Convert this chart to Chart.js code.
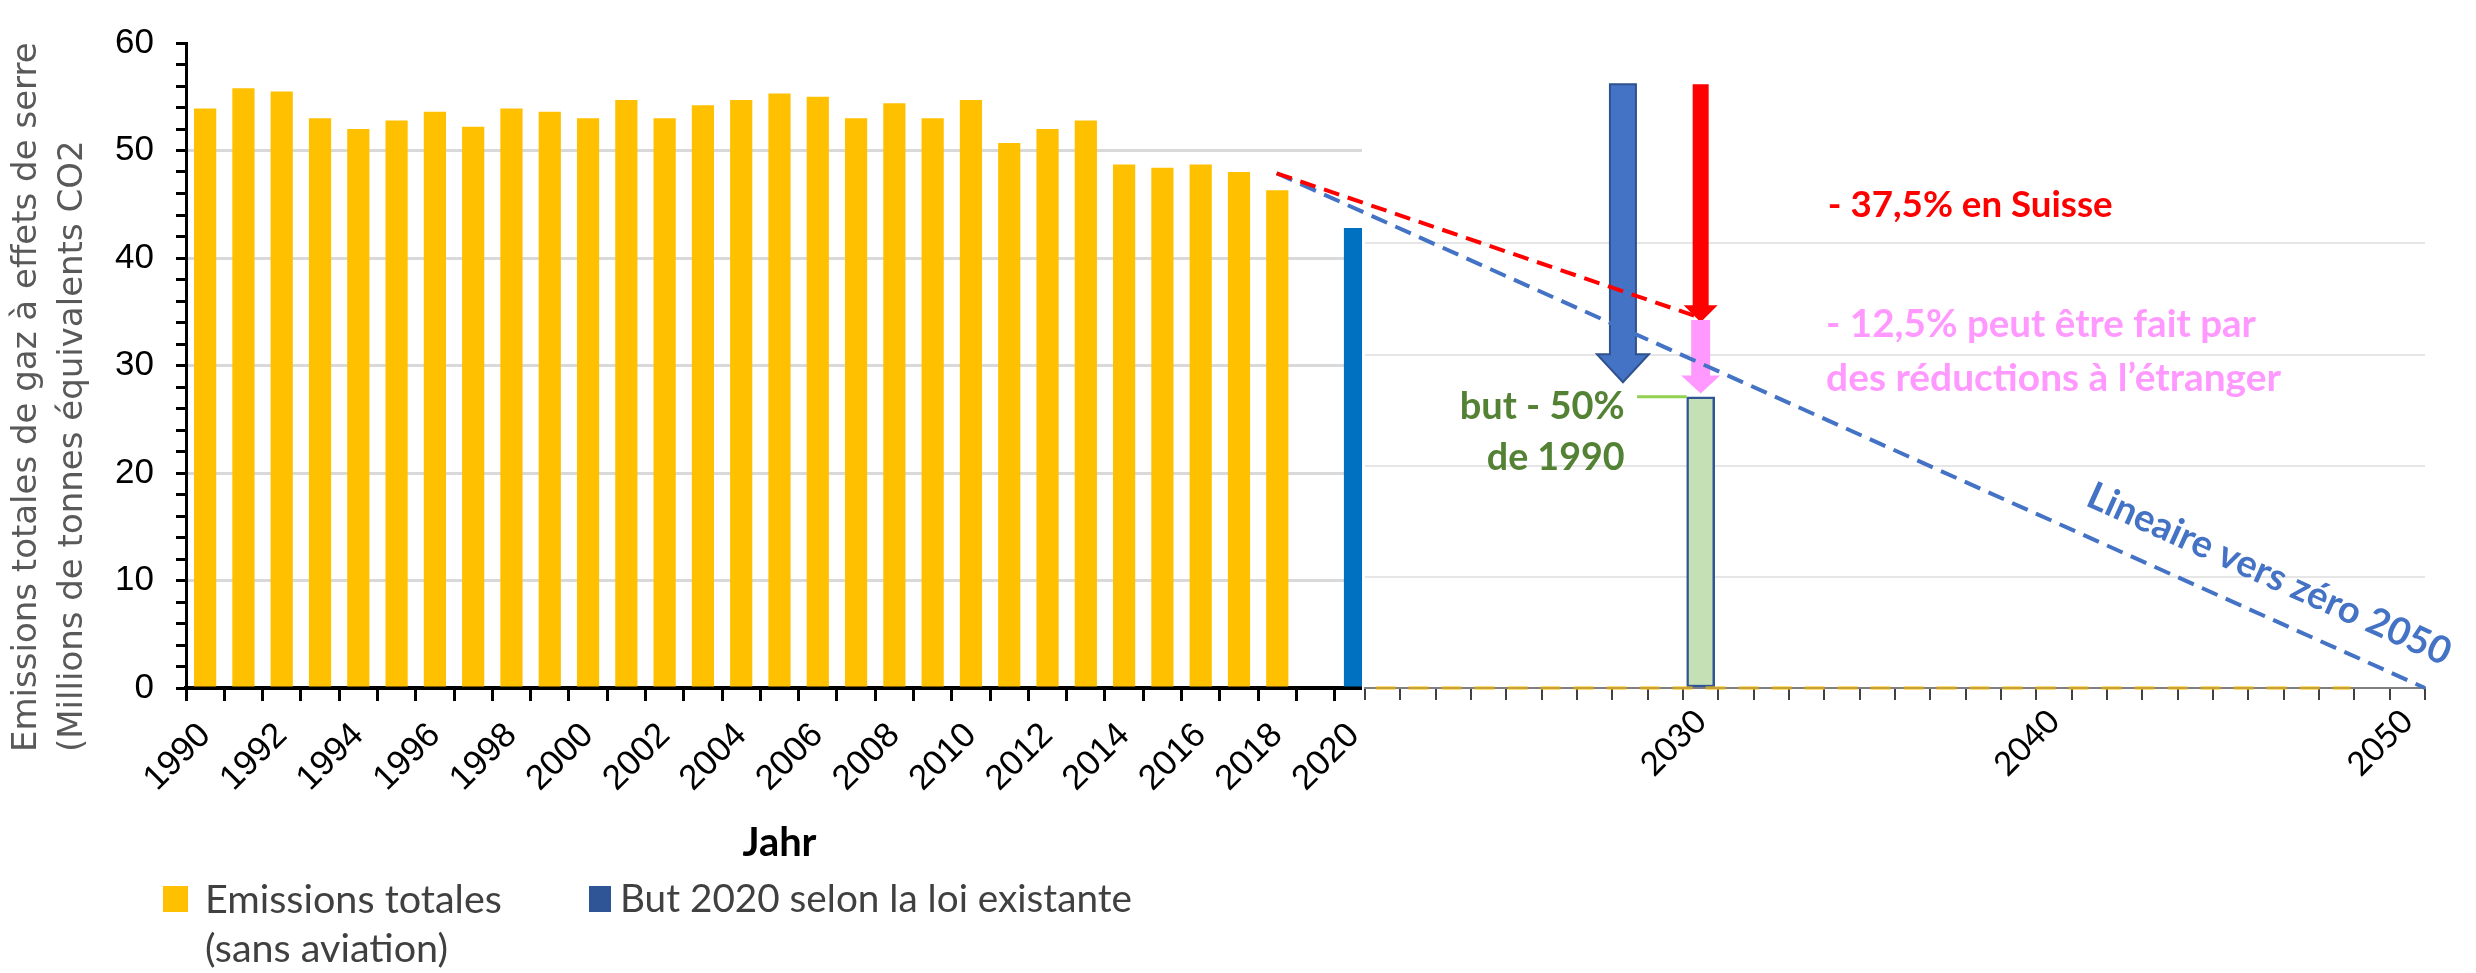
<!DOCTYPE html>
<html>
<head>
<meta charset="utf-8">
<script src="https://cdn.jsdelivr.net/npm/chart.js@4.4.0/dist/chart.umd.min.js"></script>
<style>
  html, body { margin: 0; padding: 0; background: #fff; }
  #wrap { position: relative; width: 2476px; height: 973px; overflow: hidden; }
  #wrap canvas { position: absolute; left: 0; top: 0; }
  .leg { position: absolute; font-family: Lato, sans-serif; color: #404040; line-height: 49px; white-space: nowrap; }
  .sw { position: absolute; width: 25px; height: 26px; }
</style>
</head>
<body>
<div id="wrap">
  <canvas id="chartA" width="2476" height="973"></canvas>
  <canvas id="chartB" width="2476" height="973"></canvas>
  <div class="sw" style="left:163px;top:886px;background:#FFC000"></div>
  <div class="leg" id="leg1" style="left:205px;top:873px">Emissions totales<br>(sans aviation)</div>
  <div class="sw" style="left:589px;top:886px;width:22px;background:#2F5597"></div>
  <div class="leg" id="leg2" style="left:620px;top:873px">But 2020 selon la loi existante</div>
</div>
<script>
// --- données ---
const yearLabels = ['1990','1991','1992','1993','1994','1995','1996','1997','1998','1999',
                    '2000','2001','2002','2003','2004','2005','2006','2007','2008','2009',
                    '2010','2011','2012','2013','2014','2015','2016','2017','2018','2019','2020'];
const emissionsTotal = [53.9, 55.8, 55.5, 53.0, 52.0, 52.8, 53.6, 52.2, 53.9, 53.6,
                        53.0, 54.7, 53.0, 54.2, 54.7, 55.3, 55.0, 53.0, 54.4, 53.0,
                        54.7, 50.7, 52.0, 52.8, 48.7, 48.4, 48.7, 48.0, 46.3, null, null];
const goal2020 = [null, null, null, null, null, null, null, null, null, null,
                  null, null, null, null, null, null, null, null, null, null,
                  null, null, null, null, null, null, null, null, null, null, 42.8];
const yTickValues = [0, 2, 4, 6, 8, 10, 12, 14, 16, 18, 20, 22, 24, 26, 28, 30,
                     32, 34, 36, 38, 40, 42, 44, 46, 48, 50, 52, 54, 56, 58, 60];

const futureYears = [2021, 2022, 2023, 2024, 2025, 2026, 2027, 2028, 2029, 2030,
                     2031, 2032, 2033, 2034, 2035, 2036, 2037, 2038, 2039, 2040,
                     2041, 2042, 2043, 2044, 2045, 2046, 2047, 2048, 2049, 2050];
const futureLabels = [2030, 2040, 2050];
const goal2030 = [{x: 2030, y: 26.2}];
const swissPath = [{x: 2018, y: 46.3}, {x: 2030, y: 33.3}];
const zeroPath = [{x: 2018, y: 46.3}, {x: 2050.5, y: 0}];
const zeroBaseline = [{x: 2020.8, y: 0}, {x: 2048.4, y: 0}];

// flèches : bleue (-50%), rouge (-37,5%), rose (-12,5%)
const arrowYears = [2027.8, 2030, 2030];
const arrowFrom = [54.3, 54.3, 33.1];
const arrowTo = [27.5, 32.9, 26.5];

// taille de police pour qu'un texte ait la largeur voulue
const mctx = document.createElement('canvas').getContext('2d');
function fitSize(text, weight, family, width) {
    mctx.font = weight + ' 100px ' + family;
    return 100 * width / mctx.measureText(text).width;
}

document.getElementById('leg1').style.fontSize = fitSize('Emissions totales', 'normal', 'Lato', 297) + 'px';
document.getElementById('leg2').style.fontSize = fitSize('But 2020 selon la loi existante', 'normal', 'Lato', 512) + 'px';

// Titre de l'axe Y (deux lignes, alignées en bas)
const yTitle = {
    id: 'yTitle',
    afterDraw(chart) {
        const ctx = chart.ctx;
        const fam = "'DejaVu Sans', sans-serif";
        const size = fitSize('Emissions totales de gaz à effets de serre', 'normal', fam, 710);
        ctx.save();
        ctx.fillStyle = '#595959';
        ctx.font = size + 'px ' + fam;
        ctx.textAlign = 'left';
        ctx.textBaseline = 'middle';
        [['Emissions totales de gaz à effets de serre', 27], ['(Millions de tonnes équivalents CO2', 73]].forEach(([t, x]) => {
            ctx.save();
            ctx.translate(x, 752);
            ctx.rotate(-Math.PI / 2);
            ctx.fillText(t, 0, 0);
            ctx.restore();
        });
        ctx.restore();
    }
};

new Chart(document.getElementById('chartA'), {
    type: 'bar',
    data: {
        labels: yearLabels,
        datasets: [{
            label: 'Emissions totales (sans aviation)',
            data: emissionsTotal,
            backgroundColor: '#FFC000',
            barPercentage: 0.58,
            categoryPercentage: 1,
            grouped: false
        }, {
            label: 'But 2020 selon la loi existante',
            data: goal2020,
            backgroundColor: '#0070C0',
            barPercentage: 0.52,
            categoryPercentage: 1,
            grouped: false
        }]
    },
    options: {
        responsive: false,
        animation: false,
        layout: { padding: { top: 21, left: 0, right: 1103, bottom: 0 } },
        plugins: { legend: { display: false }, tooltip: { enabled: false } },
        scales: {
            x: {
                afterFit: s => { s.height = 285; s.paddingLeft = 0; s.paddingRight = 0; },
                border: { color: '#000', width: 4 },
                grid: { drawOnChartArea: false, color: '#000', lineWidth: 3, tickLength: 13, offset: true },
                ticks: {
                    autoSkip: false, minRotation: 45, maxRotation: 45, padding: 14,
                    color: '#000', font: { family: "'Liberation Sans', Arial, sans-serif", size: 35 },
                    callback: function (v) {
                        const l = this.getLabelForValue(v);
                        return (+l) % 2 === 0 ? l : '';
                    }
                },
                title: {
                    display: true, text: 'Jahr', color: '#000',
                    font: { family: 'Lato', size: fitSize('Jahr', 'bold', 'Lato', 74), weight: 'bold' },
                    padding: { bottom: 106 }
                }
            },
            y: {
                min: 0, max: 60,
                afterFit: s => { s.width = 186; },
                afterBuildTicks: s => { s.ticks = yTickValues.map(v => ({ value: v })); },
                border: { color: '#000', width: 3 },
                grid: {
                    lineWidth: 3, tickLength: 10, tickColor: '#000', tickWidth: 3,
                    color: c => (c.tick && c.tick.value % 10 === 0 && c.tick.value > 0 && c.tick.value < 60) ? '#D9D9D9' : 'rgba(0,0,0,0)'
                },
                ticks: {
                    autoSkip: false, padding: 22, color: '#000',
                    font: { family: "'Liberation Sans', Arial, sans-serif", size: 35 },
                    callback: v => (v % 10 === 0 ? String(v) : '')
                }
            }
        }
    },
    plugins: [yTitle]
});

function blockArrow(ctx, cx, y0, y1, s) {
    const hs = s.shaft / 2, hh = s.head / 2, yh = y1 - s.headLen;
    ctx.beginPath();
    ctx.moveTo(cx - hs, y0);
    ctx.lineTo(cx + hs, y0);
    ctx.lineTo(cx + hs, yh);
    ctx.lineTo(cx + hh, yh);
    ctx.lineTo(cx, y1);
    ctx.lineTo(cx - hh, yh);
    ctx.lineTo(cx - hs, yh);
    ctx.closePath();
    ctx.fillStyle = s.fill;
    ctx.fill();
    if (s.stroke) {
        ctx.strokeStyle = s.stroke;
        ctx.lineWidth = 2;
        ctx.stroke();
    }
}

const arrowStyles = [
    { fill: '#4472C4', stroke: '#2F528F', shaft: 26, head: 52, headLen: 28 },
    { fill: '#FF0000', stroke: null, shaft: 16, head: 34, headLen: 17 },
    { fill: '#FF99FF', stroke: null, shaft: 19, head: 39, headLen: 18 }
];

// textes : ancre en unités du graphique, largeur visée en px
const notes = [
    { text: '- 37,5% en Suisse', x: 2033.6, y: 43.4, w: 285, color: '#FF0000', align: 'left' },
    { text: '- 12,5% peut être fait par', x: 2033.55, y: 32.7, w: 430, color: '#FF99FF', align: 'left' },
    { text: 'des réductions à l\u2019étranger', x: 2033.55, y: 27.8, w: 455, color: '#FF99FF', align: 'left' },
    { text: 'but - 50%', x: 2027.85, y: 25.3, w: 165, color: '#548235', align: 'right' },
    { text: 'de 1990', x: 2027.85, y: 20.7, w: 138, color: '#548235', align: 'right' }
];

// Annotations du graphique de droite
const annot = {
    id: 'annot',
    beforeDraw(chart) {
        const ctx = chart.ctx;
        ctx.save();
        ctx.fillStyle = '#fff';
        ctx.fillRect(1362, 0, 2476 - 1362, 705);
        ctx.restore();
    },
    beforeDatasetsDraw(chart) {
        const { ctx, scales: { x, y } } = chart;
        ctx.save();
        arrowYears.forEach((v, i) => {
            blockArrow(ctx, x.getPixelForValue(v), y.getPixelForValue(arrowFrom[i]), y.getPixelForValue(arrowTo[i]), arrowStyles[i]);
        });
        ctx.restore();
    },
    afterDatasetsDraw(chart) {
        const { ctx, scales: { x, y } } = chart;
        ctx.save();
        ctx.textBaseline = 'middle';
        notes.forEach(n => {
            ctx.font = 'bold ' + fitSize(n.text, 'bold', 'Lato', n.w) + 'px Lato';
            ctx.fillStyle = n.color;
            ctx.textAlign = n.align;
            ctx.fillText(n.text, x.getPixelForValue(n.x), y.getPixelForValue(n.y));
        });
        // trait vert vers la barre 2030
        const barLeft = x.getPixelForValue(goal2030[0].x) - 14;
        ctx.strokeStyle = '#92D050';
        ctx.lineWidth = 3;
        ctx.beginPath();
        ctx.moveTo(x.getPixelForValue(2028.2), y.getPixelForValue(goal2030[0].y));
        ctx.lineTo(barLeft, y.getPixelForValue(goal2030[0].y));
        ctx.stroke();
        // texte le long de la ligne bleue
        const x0 = x.getPixelForValue(zeroPath[0].x), y0 = y.getPixelForValue(zeroPath[0].y);
        const x1 = x.getPixelForValue(zeroPath[1].x), y1 = y.getPixelForValue(zeroPath[1].y);
        const ang = Math.atan2(y1 - y0, x1 - x0);
        const t = 0.85;
        const label = 'Lineaire vers zéro 2050';
        ctx.translate(x0 + (x1 - x0) * t, y0 + (y1 - y0) * t);
        ctx.rotate(ang);
        ctx.fillStyle = '#4472C4';
        ctx.textAlign = 'center';
        ctx.font = 'bold ' + fitSize(label, 'bold', 'Lato', 394) + 'px Lato';
        ctx.fillText(label, 0, -40);
        ctx.restore();
    }
};

new Chart(document.getElementById('chartB'), {
    type: 'bar',
    data: {
        datasets: [{
            type: 'line',
            label: 'Suisse',
            data: swissPath,
            borderColor: '#FF0000',
            borderWidth: 4,
            borderDash: [16, 9],
            pointRadius: 0,
            clip: false
        }, {
            type: 'line',
            label: 'Lineaire vers zéro 2050',
            data: zeroPath,
            borderColor: '#4472C4',
            borderWidth: 4,
            borderDash: [17, 9],
            pointRadius: 0,
            clip: false
        }, {
            type: 'line',
            label: 'base',
            data: zeroBaseline,
            borderColor: 'rgba(255,192,0,0.55)',
            borderWidth: 4,
            borderDash: [20, 13],
            pointRadius: 0,
            clip: false
        }, {
            label: 'But 2030',
            data: goal2030,
            backgroundColor: '#C5E0B4',
            borderColor: '#2F5597',
            borderWidth: 2.5,
            borderSkipped: false,
            barThickness: 28
        }]
    },
    options: {
        responsive: false,
        animation: false,
        layout: { padding: { top: 21, left: 1365, right: 51, bottom: 0 } },
        plugins: { legend: { display: false }, tooltip: { enabled: false } },
        scales: {
            x: {
                type: 'linear',
                offset: false,
                min: 2020.5, max: 2050.5,
                afterFit: s => { s.height = 285; s.paddingLeft = 0; s.paddingRight = 0; },
                afterBuildTicks: s => { s.ticks = futureYears.map(v => ({ value: v })); },
                border: { color: '#7F7F7F', width: 2 },
                grid: { drawOnChartArea: false, offset: true, color: '#404040', lineWidth: 2, tickLength: 12 },
                ticks: {
                    autoSkip: false, minRotation: 45, maxRotation: 45, padding: 2,
                    color: '#000', font: { family: 'Lato', size: 33 },
                    callback: v => (futureLabels.includes(v) ? String(v) : '')
                }
            },
            y: {
                min: 0, max: 60,
                afterFit: s => { s.width = 0; },
                border: { display: false },
                ticks: { display: false, stepSize: 10 },
                grid: {
                    drawTicks: false, lineWidth: 2,
                    color: c => (c.tick && c.tick.value >= 10 && c.tick.value <= 40) ? '#E6E6E6' : 'rgba(0,0,0,0)'
                }
            }
        }
    },
    plugins: [annot]
});
</script>
</body>
</html>
